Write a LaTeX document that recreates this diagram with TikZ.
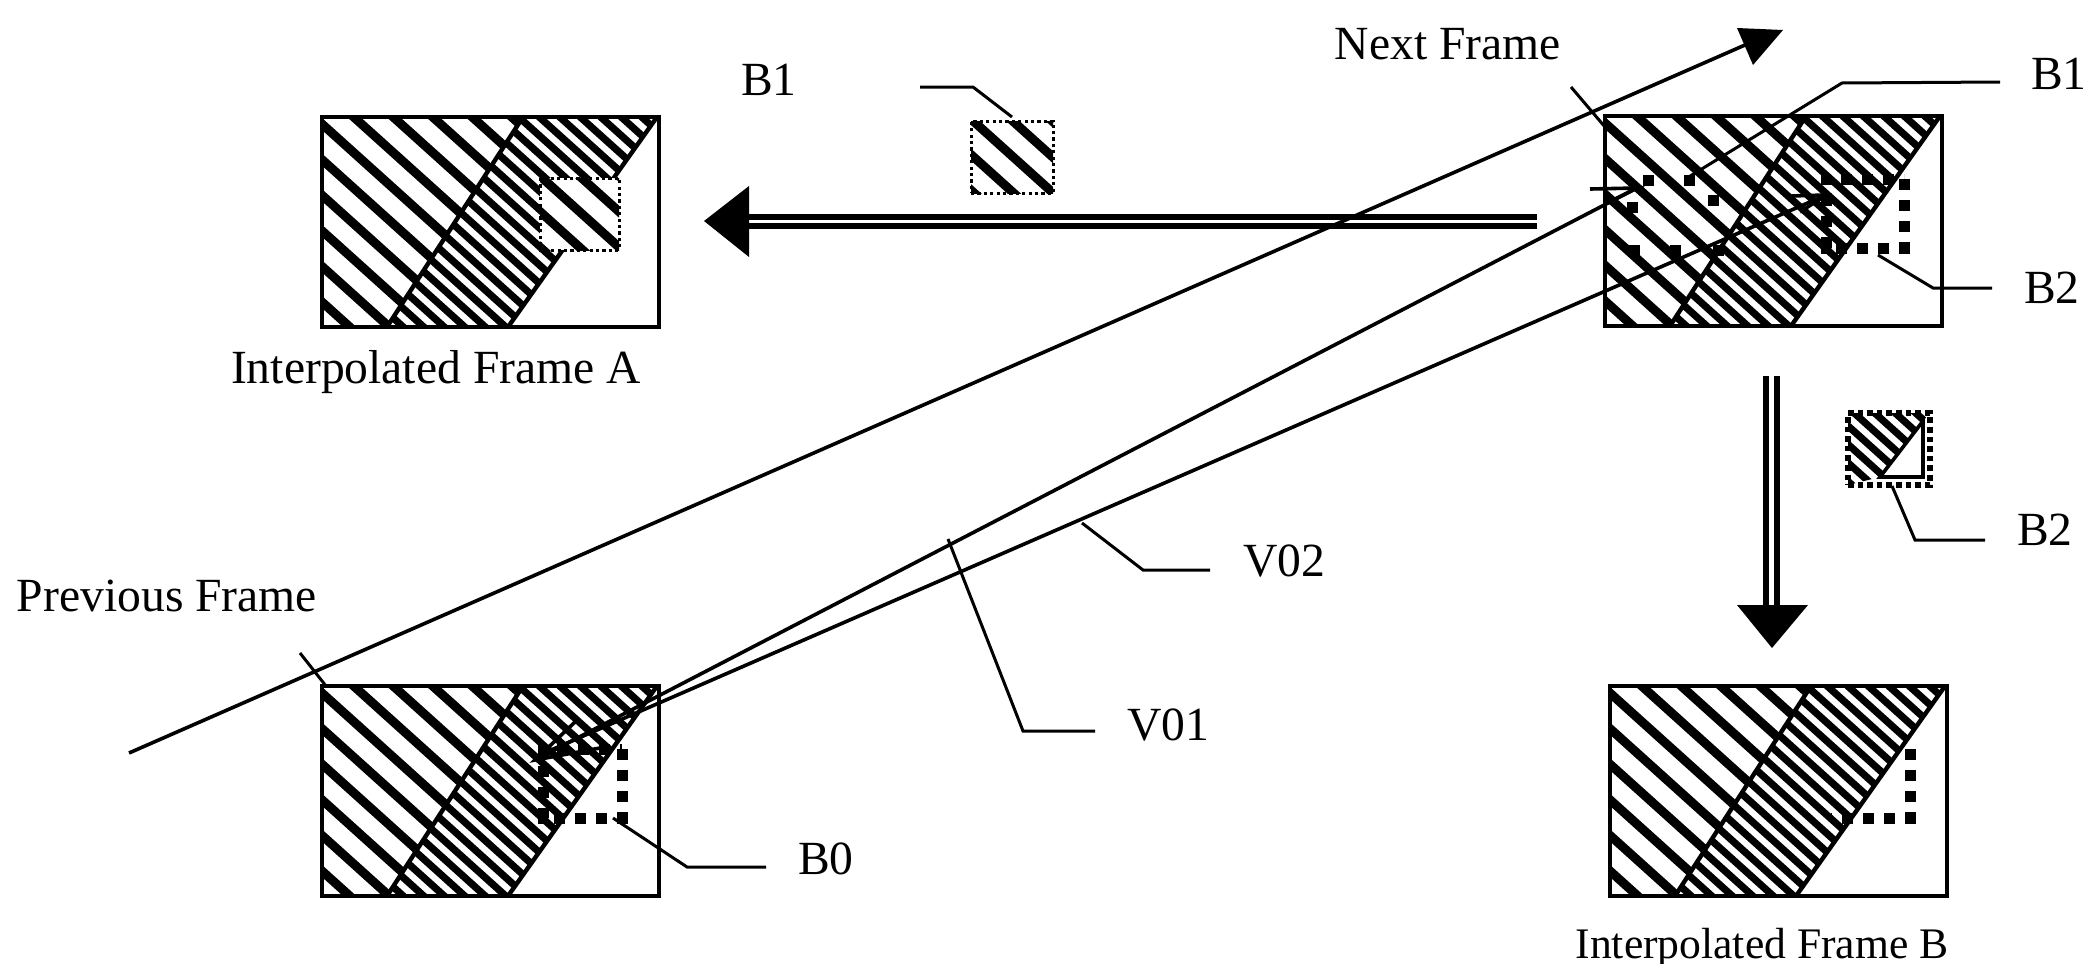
\documentclass[tikz,border=0pt]{standalone}
\usepackage{fontspec}
\setmainfont{Liberation Serif}
\newcommand{\widestripes}[1]{%
  \foreach \k in {-9,...,11}{\draw[line width=4.5pt] ({39.5*\k+#1-22},-20) -- ({39.5*\k+#1+261},235);}}
\newcommand{\finestripes}[1]{%
  \foreach \k in {-16,...,20}{\draw[line width=3.6pt] ({20.5*\k+#1-22},-20) -- ({20.5*\k+#1+261},235);}}
\newcommand{\framehatch}{%
  \begin{scope}
    \clip (0,0) -- (201,0) -- (65,210) -- (0,210) -- cycle;
    \widestripes{-8}
  \end{scope}
  \begin{scope}
    \clip (201,0) -- (335,0) -- (186,210) -- (65,210) -- cycle;
    \finestripes{12}
  \end{scope}
  \draw[line width=2.2pt] (201,0) -- (65,210);
  \draw[line width=2.2pt] (335,0) -- (186,210);
}
\tikzset{
  x=0.5pt, y=-0.5pt,
  framebox/.style={draw, line width=2.4pt, anchor=north west, minimum width=168.5pt, minimum height=105pt, inner sep=0pt, outer sep=0pt},
  thin line/.style={line width=1.5pt, line join=miter},
  motion line/.style={line width=1.8pt},
  head/.style={fill=black, draw=none},
  label text/.style={font=\fontsize{23.8}{28}\selectfont, inner sep=0pt},
  thick dots/.style={line width=5.5pt, dash pattern=on 5.5pt off 5pt},
  thin dots/.style={line width=1.5pt, dash pattern=on 1.6pt off 1.6pt},
  double bar/.style={line width=2.8pt},
}
\begin{document}
\begin{tikzpicture}
\useasboundingbox (0,0) rectangle (2089,964);
\fill[white] (0,0) rectangle (2089,964);

% Frame A
\begin{scope}[shift={(322,117)}]
  \framehatch
  \fill[white] (218,61) rectangle (297,133);
  \begin{scope}\clip (218,61) rectangle (297,133);
    \begin{scope}[shift={(218,61)}]\widestripes{2}\end{scope}
  \end{scope}
  \draw[thin dots] (218,61) rectangle (297,133);
\end{scope}
\node[framebox] (fA) at (322,117) {};

% Next frame
\begin{scope}[shift={(1605,116)}]
  \framehatch
\end{scope}
\node[framebox] (fN) at (1605,116) {};
\foreach \px/\py in {1648/180, 1689/180, 1713/200, 1632/207, 1634/250, 1675/250, 1718/250}
  \fill (\px-5.5,\py-5.5) rectangle (\px+5.5,\py+5.5);
\begin{scope}[shift={(1605,116)}]
  \draw[thick dots] (299,63) -- (299,132) -- (221,132) -- (221,63) -- cycle;
\end{scope}

% Previous frame
\begin{scope}[shift={(322,686)}]
  \framehatch
\end{scope}
\node[framebox] (fP) at (322,686) {};
\begin{scope}[shift={(322,686)}]
  \draw[thick dots] (300,63) -- (300,132) -- (221,132) -- (221,63) -- cycle;
\end{scope}

% Frame B
\begin{scope}[shift={(1610,686)}]
  \framehatch
\end{scope}
\node[framebox] (fB) at (1610,686) {};
\begin{scope}[shift={(1610,686)}]
  \draw[thick dots] (300,63) -- (300,132) -- (221,132);
\end{scope}

% small block B1
\begin{scope}
  \clip (971,121) rectangle (1053,193);
  \begin{scope}[shift={(971,121)}]\widestripes{2}\end{scope}
\end{scope}
\node[draw, thin dots, anchor=north west, minimum width=41pt, minimum height=36pt, inner sep=0pt, outer sep=0pt] (sB1) at (971,121) {};

% small block B2
\begin{scope}
  \clip (1848,413) -- (1930,413) -- (1923,421) -- (1880,477) -- (1848,485) -- cycle;
  \begin{scope}[shift={(1848,413)}]\finestripes{6}\end{scope}
\end{scope}
\draw[line width=1.8pt] (1923,421) -- (1923,477) -- (1880,477) -- cycle;
\node[draw, line width=2.8pt, dash pattern=on 2.8pt off 2pt, anchor=north west, minimum width=41pt, minimum height=36pt, inner sep=0pt, outer sep=0pt] (sB2) at (1848,413) {};

% coordinates
\coordinate (tl0) at (129,753);  \coordinate (tl1) at (1745,45);
\coordinate (v1a) at (535,760);  \coordinate (v1b) at (1637,188);
\coordinate (v2a) at (535,757);  \coordinate (v2b) at (1826,195);

% motion lines
\draw[motion line] (tl0) -- (tl1);
\fill[head] (1737,28) -- (1783,30) -- (1753,65) -- cycle;
\draw[motion line] (v1a) -- (v1b);
\draw[motion line] (v2a) -- (v2b);
\draw[motion line] (1590,189) -- (v1b) -- (1607,203);
\draw[motion line] (1790,196) -- (v2b) -- (1800,212);
\draw[motion line] (600,748) -- (v1a) -- (575,722);

% double arrows
\coordinate (dl0) at (1537,217); \coordinate (dl1) at (749,217);
\coordinate (dl2) at (1537,226); \coordinate (dl3) at (749,226);
\draw[double bar] (dl0) -- (dl1);
\draw[double bar] (dl2) -- (dl3);
\fill[head] (704,221) -- (749,186) -- (749,257) -- cycle;
\coordinate (dv0) at (1766,376); \coordinate (dv1) at (1766,606);
\coordinate (dv2) at (1777,376); \coordinate (dv3) at (1777,606);
\draw[double bar] (dv0) -- (dv1);
\draw[double bar] (dv2) -- (dv3);
\fill[head] (1737,605) -- (1808,605) -- (1772,648) -- cycle;

% labels
\node[label text] (tB1a) at (769,80) {B1};
\node[label text] (tNext) at (1448,44) {Next Frame};
\node[label text] (tB1b) at (2059,74) {B1};
\node[label text] (tB2a) at (2052,288) {B2};
\node[label text] (tIA) at (436,372) {Interpolated Frame A};
\node[label text] (tB2b) at (2045,530) {B2};
\node[label text] (tV02) at (1284,561) {V02};
\node[label text] (tPrev) at (167,596) {Previous Frame};
\node[label text] (tV01) at (1168,725) {V01};
\node[label text] (tB0) at (826,859) {B0};
\node[label text, font=\fontsize{21.8}{26}\selectfont] (tIB) at (1762,948) {Interpolated Frame B};

% leaders
\draw[thin line] (920,87) -- (973,87) -- (1012,117);
\draw[thin line] (1571,87) -- (1605,127);
\draw[thin line] (2000,82) -- (1842,83) -- (1687,178);
\draw[thin line] (1992,288) -- (1933,288) -- (1878,255);
\draw[thin line] (1985,540) -- (1915,540) -- (1892,486);
\draw[thin line] (1210,570) -- (1143,570) -- (1082,523);
\draw[thin line] (1095,731) -- (1023,731) -- (948,539);
\draw[thin line] (300,653) -- (326,686);
\draw[thin line] (766,867) -- (687,867) -- (613,818);
\end{tikzpicture}
\end{document}
